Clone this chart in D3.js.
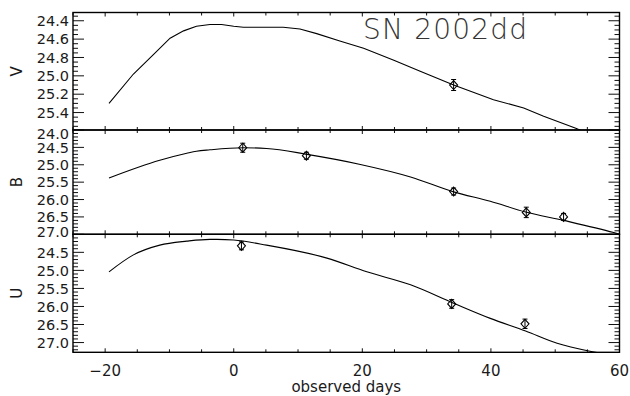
<!DOCTYPE html>
<html>
<head>
<meta charset="utf-8">
<script src="https://cdn.jsdelivr.net/npm/d3@7"></script>
<style>
  body { margin: 0; background: #fff; }
  text { font-family: 'DejaVu Sans', sans-serif; fill: #1a1a1a; }
</style>
</head>
<body>
<div id="chart"></div>
<script>
const title = 'SN 2002dd';
const xLabel = 'observed days';
const xTicks = [-20, 0, 20, 40, 60];
const bands = ['V', 'B', 'U'];

// model light curves: [day, magnitude]
const vModel = [[-19.4, 25.30], [-15.6, 24.98], [-12.5, 24.77], [-9.9, 24.59], [-7.8, 24.51],
  [-5.8, 24.46], [-3.7, 24.44], [-1.9, 24.44], [0, 24.46], [1.5, 24.47], [4.5, 24.47],
  [7.7, 24.47], [10.3, 24.49], [12.9, 24.54], [16.5, 24.62], [20.2, 24.70], [24.9, 24.83],
  [29.0, 24.95], [34.2, 25.10], [40.4, 25.26], [45.1, 25.35], [48.2, 25.44], [53.2, 25.57],
  [58.0, 25.72]];
const bModel = [[-19.4, 25.38], [-11.5, 24.87], [-7.3, 24.67], [-5.8, 24.61], [-3.7, 24.57],
  [1.5, 24.51], [5.1, 24.53], [11.4, 24.70], [19.7, 24.99], [27.5, 25.35], [34.2, 25.78],
  [39.9, 26.05], [45.4, 26.36], [51.3, 26.60], [59.1, 26.95], [61.0, 27.05]];
const uModel = [[-19.4, 25.04], [-15.6, 24.57], [-11.5, 24.30], [-7.3, 24.19], [-3.7, 24.14],
  [-2.6, 24.14], [0, 24.16], [5.1, 24.30], [14.5, 24.66], [20.7, 25.04], [27.5, 25.40],
  [34.2, 25.91], [39.9, 26.33], [45.4, 26.68], [50.3, 27.02], [56.5, 27.28], [60.0, 27.40]];

// observations: [day, magnitude, error]
const vObs = [[34.2, 25.10, 0.06]];
const bObs = [[1.4, 24.51, 0.13], [11.3, 24.74, 0.10], [34.2, 25.77, 0.10],
  [45.5, 26.37, 0.15], [51.3, 26.50, 0.10]];
const uObs = [[1.2, 24.32, 0.11], [33.9, 25.93, 0.12], [45.3, 26.48, 0.13]];

const vTicks = [24.4, 24.6, 24.8, 25.0, 25.2, 25.4];
const bTicks = [24.0, 24.5, 25.0, 25.5, 26.0, 26.5, 27.0];
const uTicks = [24.5, 25.0, 25.5, 26.0, 26.5, 27.0];

const width = 630, height = 396;
const left = 73, right = 619.5;
const edges = [12.5, 130, 234.3, 352.3];

const panels = [
  { name: bands[0], model: vModel, obs: vObs, ticks: vTicks, domain: [24.31, 25.59], minor: 0.05, curve: d3.curveLinear },
  { name: bands[1], model: bModel, obs: bObs, ticks: bTicks, domain: [24.0, 27.0], minor: 0.1, curve: d3.curveMonotoneX },
  { name: bands[2], model: uModel, obs: uObs, ticks: uTicks, domain: [24.0, 27.27], minor: 0.1, curve: d3.curveMonotoneX }
];

const svg = d3.select('#chart').append('svg')
  .attr('width', width).attr('height', height);

const x = d3.scaleLinear().domain([-25, 60]).range([left, right]);
const xMinor = d3.range(-25, 61, 5);

panels.forEach((p, i) => {
  let top = edges[i], bottom = edges[i + 1];
  let y = d3.scaleLinear().domain(p.domain).range([top, bottom]);
  let g = svg.append('g').attr('class', 'panel');

  g.append('clipPath').attr('id', 'clip' + i)
    .append('rect').attr('x', left).attr('y', top)
    .attr('width', right - left).attr('height', bottom - top);

  // y ticks, left and right, pointing inward
  let lo = Math.ceil(p.domain[0] / p.minor - 1e-6), hi = Math.floor(p.domain[1] / p.minor + 1e-6);
  let minors = d3.range(lo, hi + 1).map(k => k * p.minor);
  let isMajor = v => p.ticks.some(t => Math.abs(t - v) < 1e-6);
  [[left, 1], [right, -1]].forEach(([x0, dir]) => {
    g.selectAll(null).data(minors).enter().append('line')
      .attr('x1', x0).attr('x2', d => x0 + dir * (isMajor(d) ? 11 : 5))
      .attr('y1', d => y(d)).attr('y2', d => y(d))
      .style('stroke', '#111').style('stroke-width', 1);
  });

  // x ticks on top and bottom edges
  [[top, 1], [bottom, -1]].forEach(([y0, dir]) => {
    g.selectAll(null).data(xMinor).enter().append('line')
      .attr('x1', d => x(d)).attr('x2', d => x(d))
      .attr('y1', y0).attr('y2', d => y0 + dir * (d % 20 == 0 ? 4 : 3))
      .style('stroke', '#111').style('stroke-width', 1);
  });

  g.selectAll('text.ytick').data(p.ticks).enter().append('text').attr('class', 'ytick')
    .attr('x', 69).attr('y', d => Math.max(top + 4, Math.min(bottom - 3, y(d))))
    .attr('dy', '0.36em').attr('text-anchor', 'end')
    .style('font-size', '14.5px').text(d => d.toFixed(1));

  g.append('text')
    .attr('transform', 'translate(22,' + ((top + bottom) / 2) + ') rotate(-90)')
    .attr('text-anchor', 'middle').style('font-size', '15px').text(p.name);

  let line = d3.line().x(d => x(d[0])).y(d => y(d[1])).curve(p.curve);
  g.append('path').datum(p.model)
    .attr('clip-path', 'url(#clip' + i + ')')
    .attr('d', line)
    .style('fill', 'none').style('stroke', '#000').style('stroke-width', 1.1);

  let pts = g.selectAll('g.obs').data(p.obs).enter().append('g').attr('class', 'obs');
  pts.append('line')
    .attr('x1', d => x(d[0])).attr('x2', d => x(d[0]))
    .attr('y1', d => y(d[1] - d[2])).attr('y2', d => y(d[1] + d[2]))
    .style('stroke', '#000').style('stroke-width', 1);
  [-1, 1].forEach(s => {
    pts.append('line')
      .attr('x1', d => x(d[0]) - 2.5).attr('x2', d => x(d[0]) + 2.5)
      .attr('y1', d => y(d[1] + s * d[2])).attr('y2', d => y(d[1] + s * d[2]))
      .style('stroke', '#000').style('stroke-width', 1);
  });
  pts.append('path')
    .attr('d', d => {
      let cx = x(d[0]), cy = y(d[1]);
      return 'M' + cx + ',' + (cy - 4.5) + 'L' + (cx + 4) + ',' + cy +
        'L' + cx + ',' + (cy + 4.5) + 'L' + (cx - 4) + ',' + cy + 'Z';
    })
    .style('fill', 'none').style('stroke', '#000').style('stroke-width', 1.1);

  g.append('rect')
    .attr('x', left).attr('y', top).attr('width', right - left).attr('height', bottom - top)
    .style('fill', 'none').style('stroke', '#000').style('stroke-width', 1.4);
});

svg.selectAll('text.xtick').data(xTicks).enter().append('text').attr('class', 'xtick')
  .attr('x', d => x(d)).attr('y', 375.5).attr('text-anchor', 'middle')
  .style('font-size', '15px').text(d => d < 0 ? '\u2212' + Math.abs(d) : d);

svg.append('text')
  .attr('x', (left + right) / 2).attr('y', 392).attr('text-anchor', 'middle')
  .style('font-size', '15px').text(xLabel);

svg.append('text')
  .attr('x', 363).attr('y', 39)
  .style('font-size', '28px').style('font-weight', 200).style('letter-spacing', '1.2px')
  .style('fill', '#333').text(title);
</script>
</body>
</html>
